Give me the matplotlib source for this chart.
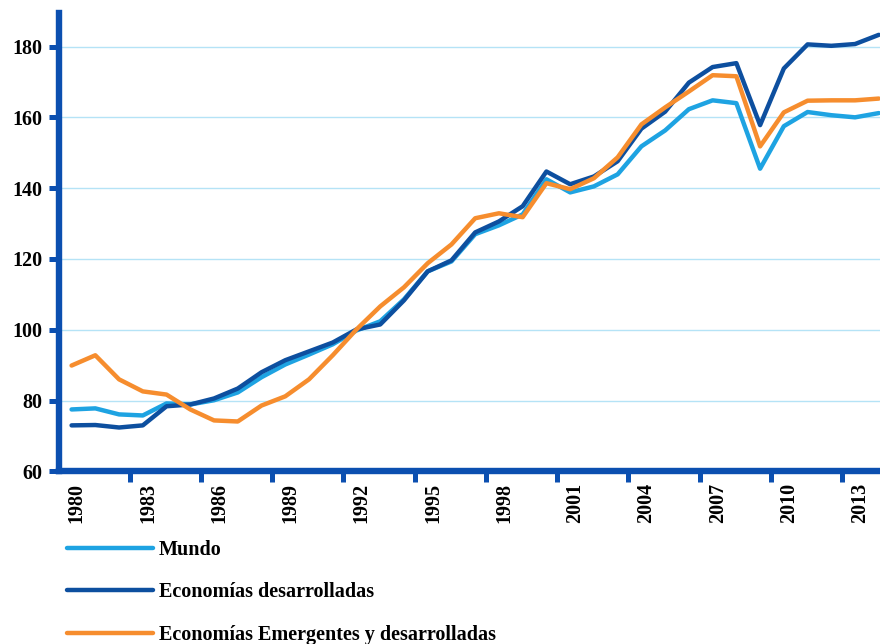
import matplotlib
matplotlib.use("Agg")
import matplotlib.pyplot as plt

years = list(range(1980, 2015))
mundo = [77.5, 77.8, 76.1, 75.8, 79.2, 78.9, 80.1, 82.3, 86.6, 90.2, 93.0, 95.9,
         99.8, 102.4, 108.6, 116.5, 119.3, 127.0, 129.5, 132.6, 142.5, 138.8,
         140.5, 143.9, 151.8, 156.3, 162.3, 164.8, 164.0, 145.5, 157.5, 161.5,
         160.6, 160.0, 161.2]
desarrolladas = [73.0, 73.1, 72.4, 73.0, 78.4, 78.9, 80.6, 83.4, 88.0, 91.4, 93.9,
                 96.4, 100.1, 101.5, 108.3, 116.5, 119.6, 127.5, 130.6, 134.9,
                 144.7, 141.1, 143.3, 147.6, 156.8, 161.6, 169.8, 174.2, 175.3,
                 157.8, 173.8, 180.6, 180.2, 180.7, 183.3]
emergentes = [89.9, 92.8, 86.0, 82.6, 81.7, 77.5, 74.4, 74.1, 78.6, 81.2, 86.0,
              92.8, 100.1, 106.6, 112.0, 118.8, 124.1, 131.5, 132.9, 131.8, 141.4,
              139.7, 142.8, 148.7, 158.0, 162.8, 167.3, 171.9, 171.6, 151.8, 161.4,
              164.7, 164.8, 164.8, 165.3]
labels = ["Mundo", "Economías desarrolladas", "Economías Emergentes y desarrolladas"]
yticks = [60, 80, 100, 120, 140, 160, 180]
xlabel_years = list(range(1980, 2014, 3))

c_mundo = "#1ea3e2"
c_des = "#0d4f9f"
c_emer = "#f68d2e"
c_axis = "#0b4fb0"
c_grid = "#b5e3f6"

plt.rcParams["font.family"] = ["Liberation Serif", "DejaVu Serif"]
plt.rcParams["font.weight"] = "bold"

fig = plt.figure(figsize=(8.8, 6.44), dpi=100)
ax = fig.add_axes([0.0665, 0.268, 0.9335, 0.712])

lw = 3.2
l1, = ax.plot(years, mundo, color=c_mundo, lw=lw, solid_capstyle="round", zorder=3)
l2, = ax.plot(years, desarrolladas, color=c_des, lw=lw, solid_capstyle="round", zorder=4)
l3, = ax.plot(years, emergentes, color=c_emer, lw=lw, solid_capstyle="round", zorder=5)

ax.set_ylim(60, 189.5)
ax.set_xlim(1979.45, 2014.05)
ax.set_yticks(yticks)
ax.set_yticklabels([str(v) for v in yticks], fontsize=14.5, fontweight="bold")
for v in yticks[1:]:
    ax.axhline(v, color=c_grid, lw=1.0, zorder=1)

ax.set_xticks([y + 0.22 for y in xlabel_years])
ax.set_xticklabels([str(y) for y in xlabel_years], rotation=90, fontsize=14.5,
                   fontweight="bold")
ax.tick_params(axis="x", which="major", length=0, pad=8)
ax.set_xticks([y - 0.55 for y in xlabel_years[1:]], minor=True)
ax.tick_params(axis="x", which="minor", length=8, width=3.6, color=c_axis,
               direction="out")
ax.tick_params(axis="y", length=7.5, width=3.6, color=c_axis, direction="out", pad=4)

for s in ["top", "right"]:
    ax.spines[s].set_visible(False)
for s in ["left", "bottom"]:
    ax.spines[s].set_color(c_axis)
    ax.spines[s].set_linewidth(4.6)

fig.legend([l1, l2, l3], labels, loc="upper left", bbox_to_anchor=(0.076, 0.161),
           frameon=False, prop={"weight": "bold", "size": 14.5},
           handlelength=4.3, handletextpad=0.25, labelspacing=1.1,
           borderaxespad=0, borderpad=0)

fig.savefig("out.png", dpi=100)
